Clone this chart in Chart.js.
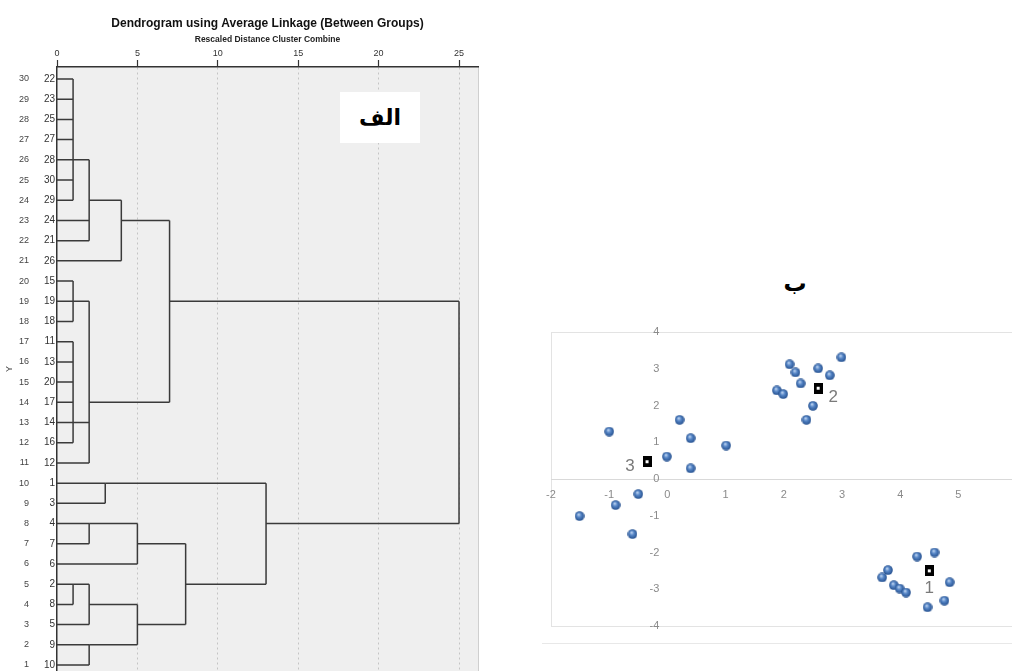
<!DOCTYPE html>
<html>
<head>
<meta charset="utf-8">
<script src="https://cdn.jsdelivr.net/npm/chart.js@4.4.1/dist/chart.umd.min.js"></script>
<style>
html,body{margin:0;padding:0;background:#fff;overflow:hidden;width:1012px;height:671px;position:relative}
#dendro{position:absolute;left:0;top:0}
#scatter{position:absolute;left:540px;top:250px}
#alef{position:absolute;left:340px;top:92px;width:80px;height:51px;background:#fff;font:bold 22px "DejaVu Sans";color:#000;display:flex;align-items:center;justify-content:center;direction:rtl}
#beh{position:absolute;left:770px;top:266px;width:50px;height:34px;font:bold 23px "DejaVu Sans";color:#000;text-align:center;line-height:34px;direction:rtl}
</style>
</head>
<body>
<canvas id="dendro" width="500" height="671"></canvas>
<div id="alef">الف</div>
<div id="beh">ب</div>
<canvas id="scatter" width="486" height="421"></canvas>
<script>
// ---------------- Dendrogram data ----------------
// case labels listed from the top row (30) down to the bottom row (1)
const caseLabels = [22,23,25,27,28,30,29,24,21,26,15,19,18,11,13,20,17,14,16,12,1,3,4,7,6,2,8,5,9,10];
const distanceTicks = [0,5,10,15,20,25];
// each merge: height (rescaled distance), child rows, and the distance each child line starts from
const mergeHeights   = [1, 2, 4, 1, 1, 2, 7, 3, 2, 5, 1, 2, 2, 5, 8, 13, 25];
const mergeChildRows = [[30,29,28,27,26,25,24],[26,23,22],[24,21],[20,19,18],[17,16,15,14,13,12],[19,13,11],[23,14],[10,9],[8,7],[8,6],[5,4],[5,3],[2,1],[4,2],[7,3],[10,5],[19,8]];
const mergeChildFrom = [[0,0,0,0,0,0,0],[1,0,0],[2,0],[0,0,0],[0,0,0,0,0,0],[1,1,0],[4,2],[0,0],[0,0],[2,0],[0,0],[1,0],[0,0],[2,2],[5,5],[3,8],[7,13]];

// ---------------- Scatter data ----------------
const pointX = [-1.00,0.21,0.40,1.01,-0.01,0.40,-1.51,-0.89,-0.50,-0.60,
                2.10,2.20,2.99,2.59,2.79,2.29,1.88,1.99,2.50,2.39,
                4.29,4.59,3.79,3.69,3.89,3.99,4.10,4.85,4.76,4.47];
const pointY = [1.29,1.61,1.11,0.91,0.61,0.29,-1.01,-0.71,-0.41,-1.50,
                3.12,2.90,3.31,3.01,2.82,2.60,2.41,2.31,1.99,1.61,
                -2.11,-2.00,-2.48,-2.68,-2.89,-2.98,-3.09,-2.81,-3.31,-3.49];
const centerLabels = ['1','2','3'];
const centerX = [4.50, 2.59, -0.35];
const centerY = [-2.50, 2.47, 0.47];
const scatterTicksX = [-2,-1,0,1,2,3,4,5,6];
const scatterTicksY = [-4,-3,-2,-1,0,1,2,3,4];

// ---------------- styles ----------------
const labelOffsets = [[0,17],[15,9],[-17,5]];

// ---------------- Dendrogram ----------------
const dendroDatasets = mergeHeights.map((h, m) => {
  const rows = mergeChildRows[m];
  const pts = [];
  rows.forEach((r, k) => {
    pts.push({x: mergeChildFrom[m][k], y: r}, {x: h, y: r}, {x: null, y: null});
  });
  pts.push({x: h, y: Math.max(...rows)}, {x: h, y: Math.min(...rows)});
  return {data: pts, showLine: true, spanGaps: false, borderColor: '#3a3a3a', borderWidth: 1.5,
          pointRadius: 0, pointHoverRadius: 0, fill: false};
});

const bgPlugin = {
  id: 'bg',
  beforeDraw(chart) {
    const {ctx, chartArea: a} = chart;
    ctx.save();
    ctx.fillStyle = '#efefef';
    ctx.fillRect(a.left, a.top, a.right - a.left, a.bottom - a.top);
    ctx.strokeStyle = '#cfcfcf';
    ctx.lineWidth = 1;
    ctx.beginPath(); ctx.moveTo(a.right + 0.5, a.top); ctx.lineTo(a.right + 0.5, a.bottom); ctx.stroke();
    ctx.restore();
  }
};
const noPad = s => { s.paddingTop = 0; s.paddingBottom = 0; s.paddingLeft = 0; s.paddingRight = 0; };

const rowTicks = caseLabels.map((_, i) => ({value: caseLabels.length - i}));
const tickFont = {family: 'Liberation Sans', size: 9};

new Chart(document.getElementById('dendro'), {
  type: 'scatter',
  data: {datasets: dendroDatasets},
  options: {
    responsive: false, animation: false, events: [],
    layout: {padding: {left: 0, right: 22, top: 0, bottom: 0}},
    plugins: {
      legend: {display: false}, tooltip: {enabled: false},
      title: {display: true, fullSize: false, text: 'Dendrogram using Average Linkage (Between Groups)',
              color: '#111', font: {family: 'Liberation Sans', size: 12, weight: 'bold'},
              padding: {top: 16, bottom: 0}}
    },
    scales: {
      x: {
        type: 'linear', position: 'top', min: 0, max: 26.18,
        afterBuildTicks: s => { s.ticks = distanceTicks.map(v => ({value: v})); },
        afterFit: s => { s.height = 36.6; noPad(s); },
        ticks: {color: '#333', font: tickFont, padding: 1, autoSkip: false},
        grid: {color: c => (c.tick && c.tick.value === 0) ? 'rgba(0,0,0,0)' : '#c4c4c4',
               lineWidth: 1, tickColor: '#333', tickLength: 7, tickWidth: 1.2},
        border: {display: true, color: '#333', width: 1.5, dash: [2, 3]},
        title: {display: true, text: 'Rescaled Distance Cluster Combine', color: '#222',
                font: {family: 'Liberation Sans', size: 8.5, weight: 'bold'}, padding: {top: 4, bottom: 0}}
      },
      y: {
        type: 'linear', position: 'left', weight: 0, min: 0.703, max: 30.594,
        afterBuildTicks: s => { s.ticks = rowTicks.map(t => ({value: t.value})); },
        afterFit: s => { s.width = 14; noPad(s); },
        ticks: {color: '#333', font: {family: 'Liberation Sans', size: 10}, padding: 2, autoSkip: false,
                callback: v => caseLabels[caseLabels.length - v]},
        grid: {display: false, drawTicks: false},
        border: {display: true, color: '#333', width: 1.5}
      },
      rows: {
        axis: 'y', type: 'linear', position: 'left', weight: 1, min: 0.703, max: 30.594,
        afterBuildTicks: s => { s.ticks = rowTicks.map(t => ({value: t.value})); },
        afterFit: s => { s.width = 43; noPad(s); },
        ticks: {color: '#444', font: tickFont, padding: 14, autoSkip: false},
        grid: {display: false, drawTicks: false},
        border: {display: false},
        title: {display: true, text: 'Y', color: '#444', font: {family: 'Liberation Sans', size: 9}, padding: {top: 4, bottom: 0}}
      }
    }
  },
  plugins: [bgPlugin]
});

// ---------------- Scatter ----------------
function makeSphere(d) {
  const c = document.createElement('canvas'); c.width = d; c.height = d;
  const g = c.getContext('2d');
  const grd = g.createRadialGradient(d * 0.4, d * 0.33, 0.4, d / 2, d / 2, d / 2);
  grd.addColorStop(0, '#b8d0ef'); grd.addColorStop(0.4, '#5585c6'); grd.addColorStop(1, '#234e8c');
  g.fillStyle = grd; g.beginPath(); g.arc(d / 2, d / 2, d / 2 - 0.2, 0, Math.PI * 2); g.fill();
  return c;
}
function makeCenter(w, h) {
  const c = document.createElement('canvas'); c.width = w; c.height = h;
  const g = c.getContext('2d');
  g.fillStyle = '#000'; g.fillRect(0, 0, w, h);
  g.fillStyle = '#fff'; g.fillRect(Math.floor(w / 2) - 1, Math.floor(h / 2) - 1, 3, 3);
  return c;
}

const framePlugin = {
  id: 'frame',
  beforeDraw(chart) {
    const {ctx, chartArea: a, width} = chart;
    ctx.save();
    ctx.strokeStyle = '#e3e3e3'; ctx.lineWidth = 1;
    ctx.strokeRect(a.left + 0.5, a.top + 0.5, a.right - a.left, a.bottom - a.top);
    ctx.strokeStyle = '#e8e8e8';
    ctx.beginPath(); ctx.moveTo(2, a.bottom + 17.5); ctx.lineTo(width, a.bottom + 17.5); ctx.stroke();
    ctx.restore();
  }
};
const centerLabelPlugin = {
  id: 'centerLabels',
  afterDatasetsDraw(chart) {
    const {ctx, scales: {x, y}} = chart;
    ctx.save();
    ctx.fillStyle = '#7a7a7a';
    ctx.font = '17px "Liberation Sans"';
    ctx.textAlign = 'center'; ctx.textBaseline = 'middle';
    centerLabels.forEach((t, i) => {
      ctx.fillText(t, x.getPixelForValue(centerX[i]) + labelOffsets[i][0], y.getPixelForValue(centerY[i]) + labelOffsets[i][1]);
    });
    ctx.restore();
  }
};

const scatterTickFont = {family: 'Liberation Sans', size: 11};
new Chart(document.getElementById('scatter'), {
  type: 'scatter',
  data: {datasets: [
    {data: pointX.map((v, i) => ({x: v, y: pointY[i]})), pointStyle: makeSphere(10), pointRadius: 5, pointHoverRadius: 5},
    {data: centerX.map((v, i) => ({x: v, y: centerY[i]})), pointStyle: makeCenter(9, 11), pointRadius: 5, pointHoverRadius: 5}
  ]},
  options: {
    responsive: false, animation: false, events: [],
    layout: {padding: {left: 11, right: 9.4, top: 82, bottom: 45}},
    plugins: {legend: {display: false}, tooltip: {enabled: false}},
    scales: {
      x: {type: 'linear', min: -2, max: 6, position: {y: 0},
          afterBuildTicks: s => { s.ticks = scatterTicksX.map(v => ({value: v})); },
          afterFit: noPad,
          ticks: {color: '#8a8a8a', font: scatterTickFont, padding: 9, autoSkip: false, maxRotation: 0},
          grid: {display: false, drawTicks: false},
          border: {display: true, color: '#d9d9d9', width: 1}},
      y: {type: 'linear', min: -4, max: 4, position: {x: -0.14},
          afterBuildTicks: s => { s.ticks = scatterTicksY.map(v => ({value: v})); },
          afterFit: noPad,
          ticks: {color: '#8a8a8a', font: scatterTickFont, padding: 0, autoSkip: false},
          grid: {display: false, drawTicks: false},
          border: {display: false}}
    }
  },
  plugins: [framePlugin, centerLabelPlugin]
});
</script>
</body>
</html>
